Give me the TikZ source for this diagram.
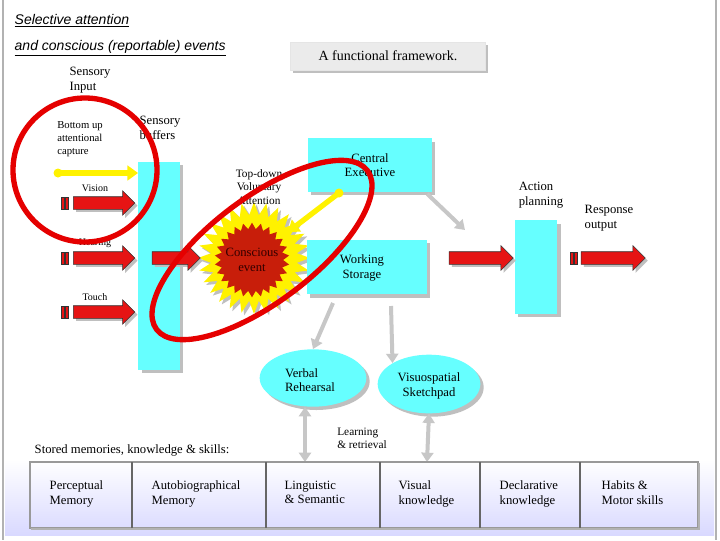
\documentclass[tikz,border=0pt]{standalone}
\usepackage{fontspec}
\setmainfont{Liberation Serif}
\setsansfont{Liberation Sans}
\usetikzlibrary{arrows.meta}
\usetikzlibrary{shapes.geometric,shapes.arrows,shadows}
\definecolor{buffcyan}{RGB}{102,255,255}
\definecolor{arrred}{RGB}{230,20,20}
\definecolor{burstred}{RGB}{200,30,10}
\tikzset{
	box/.style={fill=buffcyan,draw=none,drop shadow={shadow xshift=2.5pt,shadow yshift=-2.5pt,fill=black!25,opacity=1}},
	lbl/.style={font=\rmfamily\fontsize{9.5}{11}\selectfont,align=left},
	redarrow/.style={single arrow,fill=arrred,draw=black!80,minimum height=46pt,
		single arrow head extend=4.5pt,inner sep=4.5pt,drop shadow={shadow xshift=2pt,shadow yshift=-2pt,fill=black!25,opacity=1}},
	grayarrow/.style={draw=black!22,line width=3pt,-{Triangle[length=7pt,width=9pt]}},
	ring/.style={draw=red!90!black,line width=4pt}
}
\begin{document}
\begin{tikzpicture}[x=0.75pt,y=-0.75pt]
	\useasboundingbox (0,0) rectangle (720,540);
	%Frame and bottom band
	\fill[white] (0,0) rectangle (720,540);
	\draw[black!30,line width=1.5pt] (3,0) -- (3,540);
	\draw[black!30,line width=1pt] (716,0) -- (716,540);
	\shade[top color=white,bottom color=blue!15] (5,460) rectangle (714,535);
	%Title
	\node[anchor=west,font=\sffamily\itshape\fontsize{10.5}{12}\selectfont] (title1) at (10,21) {\underline{Selective attention}};
	\node[anchor=west,font=\sffamily\itshape\fontsize{10.5}{12}\selectfont] (title2) at (10,48) {\underline{and conscious (reportable) events}};
	\node[fill=black!8,draw=black!10,minimum width=146pt,minimum height=21pt,font=\rmfamily\fontsize{10.5}{12}\selectfont,
		drop shadow={shadow xshift=2pt,shadow yshift=-2pt,fill=black!25,opacity=1}] (frame) at (388,56) {A functional framework.};
	%Sensory side
	\node[lbl] (input) at (90,80) {Sensory\\Input};
	\node[box,minimum width=31pt,minimum height=156pt] (buffers) at (159,266) {};
	\node[lbl,fill=white,inner sep=1pt] (bufflbl) at (160,128) {Sensory\\buffers};
	\node[lbl,font=\rmfamily\fontsize{8}{9.5}\selectfont] (bottomup) at (80,139) {Bottom up\\attentional\\capture};
	\coordinate (yl) at (58,173);
	\draw[yellow,line width=4pt,-{Triangle[length=8pt,width=11pt]}] (yl) -- (buffers.north west |- yl);
	\fill[yellow] (yl) circle (4.5);
	\foreach \y/\t in {203/Vision,258/Hearing,312/Touch}{
		\node[redarrow] (in\t) at (101,\y) {};
		\fill[arrred,draw=black!80] (61,\y-6) rectangle (64,\y+6) (65,\y-6) rectangle (68,\y+6);
		\node[font=\rmfamily\fontsize{7.5}{9}\selectfont] (l\t) at (95,\y-15) {\t};
	}
	%Conscious event
	\node[star,star points=28,star point ratio=1.3,fill=yellow,minimum size=84pt,
		drop shadow={shadow xshift=2pt,shadow yshift=-2pt,fill=black!25,opacity=1}] (burst) at (254,258) {};
	\node[star,star points=26,star point ratio=1.2,fill=burstred,minimum size=56pt] (core) at (252,260) {};
	\node[lbl,align=center,text=black!80!red] (celbl) at (252,260) {Conscious\\event};
	\node[redarrow,minimum height=36pt] (tocore) at (173,258) {};
	%Executive and storage
	\node[box,minimum width=93pt,minimum height=40pt] (exec) at (370,165) {};
	\node[lbl,align=center] (execlbl) at (370,165) {Central\\Executive};
	\node[box,minimum width=90pt,minimum height=41pt] (store) at (367,267) {};
	\node[lbl,align=center] (storelbl) at (362,268) {Working\\Storage};
	\node[lbl,align=center,font=\rmfamily\fontsize{8.5}{10}\selectfont] (topdown) at (259,187) {Top-down\\Voluntary\\Attention};
	\coordinate (ylo) at (339,193);
	\draw[yellow,line width=4pt,-{Triangle[length=8pt,width=11pt]}] (ylo) -- (288,232);
	\fill[yellow] (ylo) circle (4.5);
	%Action planning
	\node[box,minimum width=32pt,minimum height=70pt] (action) at (536,267) {};
	\node[lbl] (actlbl) at (541,195) {Action\\planning};
	\node[lbl] (resplbl) at (609,218) {Response\\output};
	\node[redarrow,minimum height=48pt] (toaction) at (478,258) {};
	\node[redarrow,minimum height=48pt] (respond) at (610,258) {};
	\fill[arrred,draw=black!80] (570,252) rectangle (573,264) (574,252) rectangle (577,264);
	\draw[grayarrow] (exec.south east) ++(-5,2) -- (465,230);
	%Subsystems
	\node[ellipse,box,minimum width=80pt,minimum height=43pt] (verbal) at (313,378) {};
	\node[lbl] (verblbl) at (310,380) {Verbal\\Rehearsal};
	\node[ellipse,box,minimum width=77pt,minimum height=44pt] (visuo) at (429,384) {};
	\node[lbl,align=center] (visulbl) at (429,386) {Visuospatial\\Sketchpad};
	\draw[grayarrow] (333,303) -- (verbal.north);
	\draw[grayarrow] (391,306) -- (visuo.north west);
	%Stored memories
	\node[lbl] (stored) at (132,450) {Stored memories, knowledge \& skills:};
	\node[lbl,font=\rmfamily\fontsize{8.5}{10}\selectfont] (learn) at (362,438) {Learning\\\& retrieval};
	\draw[grayarrow,{Triangle[length=7pt,width=9pt]}-{Triangle[length=7pt,width=9pt]}] (verbal.south) ++(-8,0) -- (305,462);
	\draw[grayarrow,{Triangle[length=7pt,width=9pt]}-{Triangle[length=7pt,width=9pt]}] (visuo.south) -- (427,462);
	\draw[black!40,line width=0.8pt] (30,462) rectangle (698,528);
	\draw[black!30,line width=1.5pt] (31,529) -- (699,529) -- (699,463);
	\foreach \x in {132,266,380,480,580}{
		\draw[black!60,line width=0.8pt] (\x,462) -- (\x,528);
	}
	\foreach \x/\t [count=\i] in {48/Perceptual\\Memory,150/Autobiographical\\Memory,283/Linguistic\\\& Semantic,
		397/Visual\\knowledge,498/Declarative\\knowledge,600/Habits \&\\Motor skills}{
		\node[lbl,anchor=north west] (mem\i) at (\x-3,476) {\t};
	}
	%Highlight rings
	\draw[ring] (85,170) circle (72);
	\draw[ring,rotate around={37:(262,250)}] (262,250) ellipse (132 and 52);
\end{tikzpicture}
\end{document}
